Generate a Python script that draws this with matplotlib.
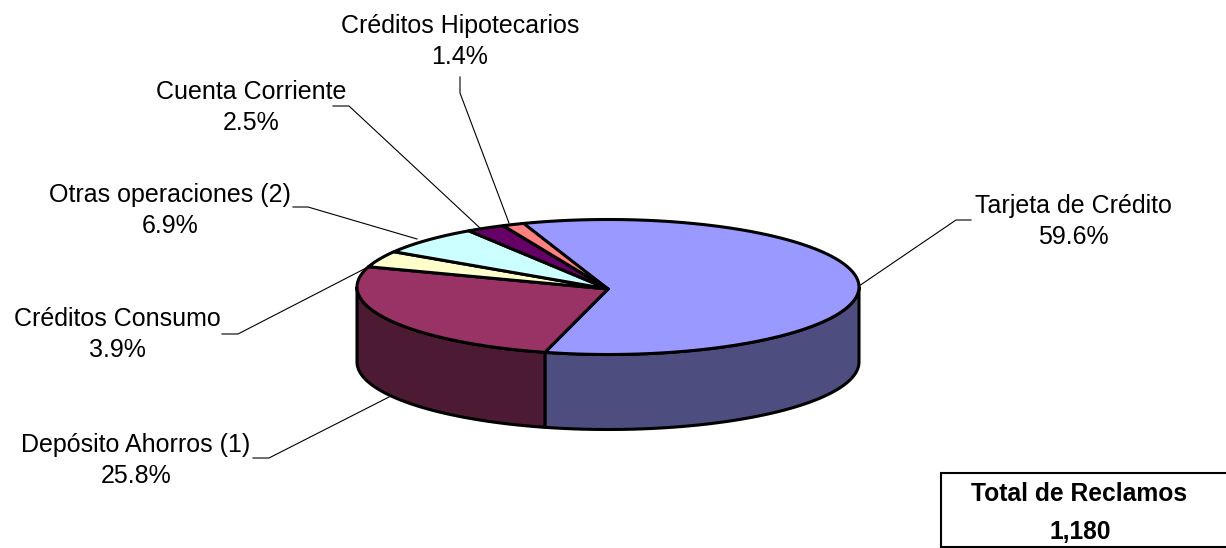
import numpy as np
import matplotlib
matplotlib.use('Agg')
import matplotlib.pyplot as plt
from matplotlib.patches import Polygon, Rectangle

plt.rcParams['font.family'] = ['Liberation Sans', 'DejaVu Sans']

# datos
categorias = ['Tarjeta de Crédito', 'Depósito Ahorros (1)', 'Créditos Consumo',
              'Otras operaciones (2)', 'Cuenta Corriente', 'Créditos Hipotecarios']
valores = [59.6, 25.8, 3.9, 6.9, 2.5, 1.4]
total_titulo = 'Total de Reclamos'
total_valor = '1,180'

# estilo
colores = ['#9999FF', '#993366', '#FFFFCC', '#CCFFFF', '#660066', '#FF8080']
colores_lado = ['#4D4D80', '#4D1A33', '#808066', '#668080', '#330033', '#804040']
cx, cy, rx, ry = 608, 287, 251, 67.5
apice = (608, 289)
alto = 75
inicio = -20

pos_texto = [(1073, 221.5), (136, 460.5), (117, 334.5), (170, 210.5), (251, 107.5), (460, 41.5)]
guias = [[(859, 286), (956, 220), (971, 220)],
         [(389, 397), (269, 458), (253, 458)],
         [(370, 266), (238, 334), (222, 334)],
         [(417, 239), (308, 207), (293, 207)],
         [(480, 228), (349, 106), (333, 106)],
         [(509, 223), (460, 93), (460, 77)]]


def borde(t0, t1):
    t = np.radians(np.linspace(t0, t1, 200))
    return np.column_stack([cx + rx * np.sin(t), cy - ry * np.cos(t)])


fig = plt.figure(figsize=(12.26, 5.48), dpi=100)
ax = fig.add_axes([0, 0, 1, 1])
ax.set_xlim(0, 1226)
ax.set_ylim(548, 0)
ax.axis('off')

angulos = inicio + np.cumsum([0] + valores) * 3.6

# lados visibles (mitad de adelante)
for i in range(len(valores)):
    t0 = max(angulos[i], 90)
    t1 = min(angulos[i + 1], 270)
    if t1 <= t0:
        continue
    arco = borde(t0, t1)
    abajo = arco[::-1] + [0, alto]
    ax.add_patch(Polygon(np.vstack([arco, abajo]), closed=True, facecolor=colores_lado[i],
                         edgecolor='black', linewidth=2.2, joinstyle='round', zorder=2))

# cara superior
for i in range(len(valores)):
    arco = borde(angulos[i], angulos[i + 1])
    ax.add_patch(Polygon(np.vstack([[apice], arco]), closed=True, facecolor=colores[i],
                         edgecolor='black', linewidth=2.2, joinstyle='round', zorder=3))

# etiquetas
for i in range(len(valores)):
    g = np.array(guias[i])
    ax.plot(g[:, 0], g[:, 1], color='black', linewidth=0.8, zorder=1)
    ax.text(pos_texto[i][0], pos_texto[i][1], f'{categorias[i]}\n{valores[i]}%', ha='center', va='center',
            fontsize=18, linespacing=1.35, color='black')

# recuadro total
ax.add_patch(Rectangle((941, 473), 290, 74, facecolor='white', edgecolor='black', linewidth=1.5))
ax.text(1079, 494, total_titulo, ha='center', va='center', fontsize=17.7, fontweight='bold')
ax.text(1080, 532, total_valor, ha='center', va='center', fontsize=17.7, fontweight='bold')

fig.savefig('out.png', dpi=100)
